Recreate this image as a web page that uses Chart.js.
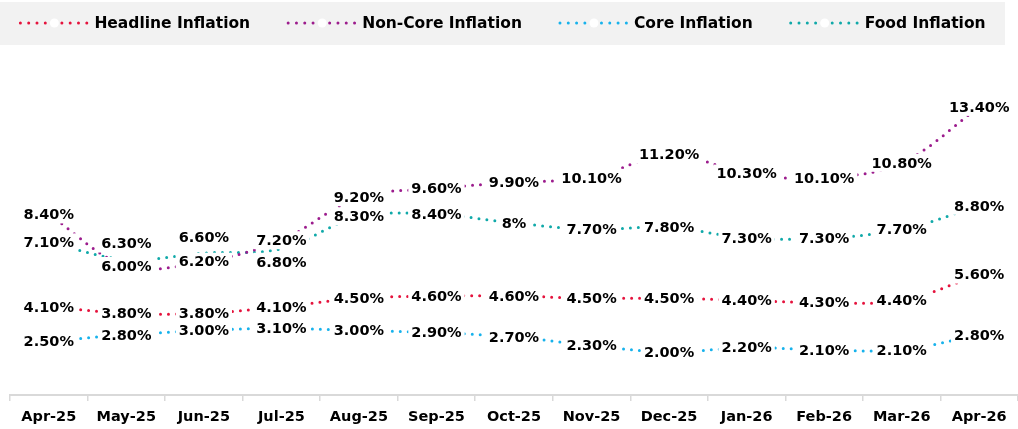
<!DOCTYPE html>
<html>
<head>
<meta charset="utf-8">
<script src="https://cdn.jsdelivr.net/npm/chart.js@4/dist/chart.umd.min.js"></script>
<style>
    html, body { margin: 0; padding: 0; background: #ffffff; }
    #wrap { position: relative; width: 1018px; height: 429px; }
</style>
</head>
<body>
<div id="wrap"><canvas id="inflationChart"></canvas></div>
<script>
// Data
const months = ['Apr-25', 'May-25', 'Jun-25', 'Jul-25', 'Aug-25', 'Sep-25', 'Oct-25',
    'Nov-25', 'Dec-25', 'Jan-26', 'Feb-26', 'Mar-26', 'Apr-26'];
const headline = [4.10, 3.80, 3.80, 4.10, 4.50, 4.60, 4.60, 4.50, 4.50, 4.40, 4.30, 4.40, 5.60];
const nonCore = [8.40, 6.00, 6.20, 7.20, 9.20, 9.60, 9.90, 10.10, 11.20, 10.30, 10.10, 10.80, 13.40];
const core = [2.50, 2.80, 3.00, 3.10, 3.00, 2.90, 2.70, 2.30, 2.00, 2.20, 2.10, 2.10, 2.80];
const food = [7.10, 6.30, 6.60, 6.80, 8.30, 8.40, 8.00, 7.70, 7.80, 7.30, 7.30, 7.70, 8.80];

// label text that the source shows without decimals
const foodLabelText = { 6: '8%' };
// vertical nudges (px) for labels that sit off their point
const foodLabelNudge = { 1: -16, 2: -16, 3: 13 };

const FONT = '"DejaVu Sans", sans-serif';

const colors = {
    headline: '#E5133D',
    nonCore: '#9C1C8D',
    core: '#17B2EC',
    food: '#10A9A9'
};

function makeSeries(label, data, color, extra) {
    return Object.assign({
        label: label,
        data: data,
        borderColor: color,
        backgroundColor: color,
        borderWidth: 3,
        borderDash: [0, 8],
        borderCapStyle: 'round',
        tension: 0.35,
        pointRadius: 0,
        pointHoverRadius: 0,
        fill: false
    }, extra || {});
}

// Grey legend strip with dotted samples
const legendStrip = {
    id: 'legendStrip',
    beforeDraw(chart) {
        const ctx = chart.ctx;
        ctx.save();
        ctx.fillStyle = '#f2f2f2';
        ctx.fillRect(0, 2, 1005, 43);

        ctx.font = 'bold 15.5px ' + FONT;
        const sampleW = 70;
        const gap = 36;
        const items = chart.data.datasets.map(ds => ({
            text: ds.label,
            color: ds.borderColor,
            w: sampleW + 6 + ctx.measureText(ds.label).width
        }));
        const total = items.reduce((s, it) => s + it.w, 0) + gap * (items.length - 1);
        let x = 502 - total / 2;
        const y = 23;

        items.forEach(it => {
            ctx.strokeStyle = it.color;
            ctx.lineWidth = 3;
            ctx.lineCap = 'round';
            ctx.setLineDash([0, 8.3]);
            ctx.beginPath();
            ctx.moveTo(x + 2, y);
            ctx.lineTo(x + sampleW, y);
            ctx.stroke();
            ctx.setLineDash([]);
            ctx.fillStyle = '#ffffff';
            ctx.beginPath();
            ctx.arc(x + sampleW / 2 + 1, y, 4.5, 0, Math.PI * 2);
            ctx.fill();

            ctx.fillStyle = '#000000';
            ctx.textBaseline = 'middle';
            ctx.textAlign = 'left';
            ctx.fillText(it.text, x + sampleW + 6, y + 1);
            x += it.w + gap;
        });
        ctx.restore();
    }
};

// Data labels on white boxes, centred on the points
const valueLabels = {
    id: 'valueLabels',
    afterDatasetsDraw(chart) {
        const ctx = chart.ctx;
        ctx.save();
        ctx.font = 'bold 14.5px ' + FONT;
        ctx.textAlign = 'center';
        ctx.textBaseline = 'middle';
        chart.data.datasets.forEach((ds, di) => {
            const meta = chart.getDatasetMeta(di);
            meta.data.forEach((pt, i) => {
                let text = ds.data[i].toFixed(2) + '%';
                if (ds.labelText && ds.labelText[i]) text = ds.labelText[i];
                const dy = (ds.labelNudge && ds.labelNudge[i]) || 0;
                const w = ctx.measureText(text).width;
                const cx = pt.x;
                const cy = pt.y + dy;
                ctx.fillStyle = '#ffffff';
                ctx.fillRect(cx - w / 2 - 3, cy - 9, w + 6, 18);
                ctx.fillStyle = '#000000';
                ctx.fillText(text, cx, cy + 1);
            });
        });
        ctx.restore();
    }
};

const chart = new Chart(document.getElementById('inflationChart'), {
    type: 'line',
    data: {
        labels: months,
        datasets: [
            makeSeries('Headline Inflation', headline, colors.headline),
            makeSeries('Non-Core Inflation', nonCore, colors.nonCore),
            makeSeries('Core Inflation', core, colors.core),
            makeSeries('Food Inflation', food, colors.food, {
                labelText: foodLabelText,
                labelNudge: foodLabelNudge
            })
        ]
    },
    options: {
        responsive: true,
        maintainAspectRatio: false,
        animation: false,
        layout: {
            padding: { top: 51, left: 10, right: -5, bottom: -5.4 }
        },
        plugins: {
            legend: { display: false },
            tooltip: { enabled: false }
        },
        scales: {
            x: {
                offset: true,
                grid: {
                    offset: true,
                    drawOnChartArea: false,
                    drawTicks: true,
                    tickLength: 6,
                    color: '#d9d9d9',
                    lineWidth: 1.5
                },
                border: { display: true, color: '#d9d9d9', width: 2 },
                ticks: {
                    color: '#000000',
                    padding: 8,
                    maxRotation: 0,
                    autoSkip: false,
                    font: { family: FONT, size: 14.5, weight: 'bold' }
                }
            },
            y: {
                display: false,
                min: 0,
                max: 16
            }
        }
    },
    plugins: [legendStrip, valueLabels]
});
</script>
</body>
</html>
